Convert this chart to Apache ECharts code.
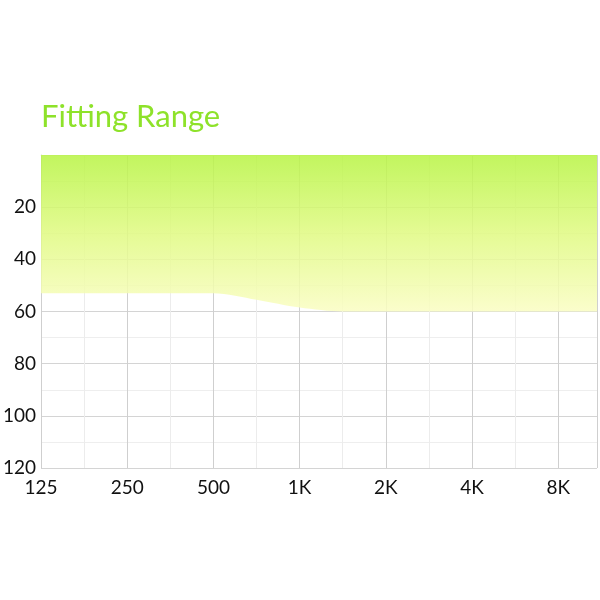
<!DOCTYPE html>
<html><head><meta charset="utf-8">
<script src="https://cdn.jsdelivr.net/npm/echarts@6/dist/echarts.min.js"></script>
<style>html,body{margin:0;padding:0;background:#fff}#c{width:600px;height:600px}</style>
</head><body><div id="c"></div>
<script>
const categories = ['125','250','500','1K','2K','4K','8K'];
const freqIndex = [0, 1, 2, 2.5, 3, 3.5, 4, 5, 6, 6.45];
const threshold = [53, 53, 53, 55.5, 58.5, 60, 60, 60, 60, 60];
const yTicks = [20, 40, 60, 80, 100, 120];

const data = freqIndex.map((x, i) => [x, threshold[i]]);
const chart = echarts.init(document.getElementById('c'), null, {renderer:'canvas'});
const font = 'Lato, "Open Sans", sans-serif';
chart.setOption({
  animation: false,
  backgroundColor: '#fff',
  title: {
    text: 'Fitting Range', left: 36, top: 96,
    textStyle: {color: '#8ee22a', fontSize: 31, fontWeight: 'normal', fontFamily: font}
  },
  grid: {left: 38, right: 3, top: 155, bottom: 132, containLabel: false},
  xAxis: {
    type: 'value', min: 0, max: 6.45, interval: 1,
    axisLine: {show: true, lineStyle: {color: '#e6e6e6'}},
    axisTick: {show: false},
    axisLabel: {
      color: '#111', fontSize: 19, fontFamily: font, margin: 10,
      showMaxLabel: false,
      formatter: v => (Number.isInteger(v) && categories[v] !== undefined) ? categories[v] : ''
    },
    splitLine: {show: true, lineStyle: {color: '#cfcfcf'}},
    minorTick: {show: false, splitNumber: 2},
    minorSplitLine: {show: true, lineStyle: {color: '#ececec'}}
  },
  yAxis: {
    type: 'value', inverse: true, min: 0, max: 120, interval: 20,
    axisLine: {show: true, lineStyle: {color: '#cfcfcf'}},
    axisTick: {show: false},
    axisLabel: {
      color: '#111', fontSize: 19, fontFamily: font, margin: 5,
      formatter: v => yTicks.includes(v) ? String(v) : ''
    },
    splitLine: {show: true, lineStyle: {color: '#d4d4d4'}},
    minorTick: {show: false, splitNumber: 2},
    minorSplitLine: {show: true, lineStyle: {color: '#eeeeee'}}
  },
  series: [{
    type: 'line', data: data, smooth: 0.3, symbol: 'none',
    lineStyle: {width: 0},
    areaStyle: {
      origin: 'start', opacity: 1,
      color: new echarts.graphic.LinearGradient(0, 0, 0, 1, [
        {offset: 0, color: 'rgba(184,244,68,0.86)'},
        {offset: 0.5, color: 'rgba(224,250,130,0.86)'},
        {offset: 1, color: 'rgba(250,253,195,0.86)'}
      ])
    }
  }]
});
</script></body></html>
